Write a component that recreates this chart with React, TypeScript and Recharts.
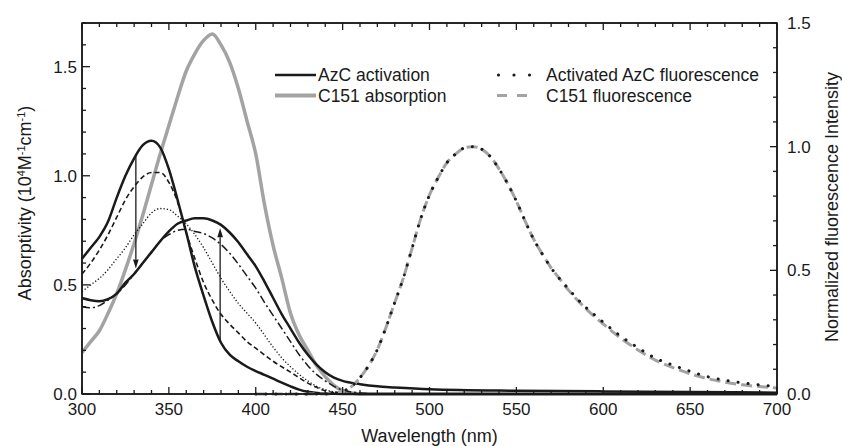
import { LineChart, Line, XAxis, YAxis, ReferenceLine } from 'recharts'

// absorption (left axis, 10^4 M^-1 cm^-1)
const azcStartX = [300, 305, 310, 315, 320, 325, 330, 335, 340, 345, 350, 355, 360, 365, 370, 375, 380, 385, 390, 395, 400, 405, 410, 415, 420, 425, 430, 440, 450, 500, 600, 700]
const azcStartY = [0.62, 0.67, 0.72, 0.79, 0.9, 1.0, 1.08, 1.14, 1.16, 1.13, 1.03, 0.89, 0.74, 0.58, 0.45, 0.33, 0.235, 0.18, 0.15, 0.125, 0.105, 0.088, 0.07, 0.052, 0.035, 0.02, 0.01, 0.002, 0, 0, 0, 0]

const azcMidAX = [300, 305, 310, 315, 320, 325, 330, 335, 340, 345, 350, 355, 360, 365, 370, 375, 380, 385, 390, 395, 400, 410, 420, 430, 440, 450]
const azcMidAY = [0.55, 0.6, 0.66, 0.73, 0.81, 0.89, 0.95, 0.995, 1.015, 1.015, 0.97, 0.88, 0.74, 0.62, 0.51, 0.43, 0.365, 0.32, 0.28, 0.24, 0.21, 0.15, 0.1, 0.05, 0.015, 0]

const azcMidBX = [300, 305, 310, 315, 320, 325, 330, 335, 340, 345, 350, 355, 360, 365, 370, 375, 380, 385, 390, 395, 400, 405, 410, 415, 420, 425, 430, 435, 440, 450, 460]
const azcMidBY = [0.47, 0.5, 0.53, 0.57, 0.62, 0.67, 0.73, 0.78, 0.83, 0.85, 0.845, 0.815, 0.78, 0.73, 0.67, 0.6, 0.53, 0.47, 0.415, 0.37, 0.325, 0.27, 0.215, 0.165, 0.125, 0.09, 0.06, 0.035, 0.02, 0.005, 0]

const azcMidCX = [300, 305, 310, 315, 320, 325, 330, 335, 340, 345, 350, 355, 360, 365, 370, 375, 380, 385, 390, 395, 400, 405, 410, 415, 420, 425, 430, 435, 440, 445, 450, 460, 470]
const azcMidCY = [0.4, 0.395, 0.405, 0.43, 0.46, 0.5, 0.55, 0.6, 0.65, 0.7, 0.73, 0.75, 0.755, 0.745, 0.735, 0.715, 0.685, 0.645, 0.595, 0.54, 0.485, 0.42, 0.36, 0.3, 0.24, 0.18, 0.13, 0.09, 0.06, 0.035, 0.018, 0.005, 0]

const azcEndX = [300, 305, 310, 315, 320, 325, 330, 335, 340, 345, 350, 355, 360, 365, 370, 375, 380, 385, 390, 395, 400, 405, 410, 415, 420, 425, 430, 435, 440, 445, 450, 460, 470, 480, 500, 550, 600, 650, 700]
const azcEndY = [0.44, 0.43, 0.425, 0.435, 0.46, 0.51, 0.55, 0.6, 0.65, 0.7, 0.745, 0.78, 0.795, 0.805, 0.805, 0.795, 0.775, 0.74, 0.695, 0.64, 0.585, 0.515, 0.44, 0.365, 0.3, 0.235, 0.18, 0.135, 0.1, 0.075, 0.06, 0.045, 0.035, 0.03, 0.022, 0.015, 0.012, 0.009, 0.006]

const c151AbsX = [300, 305, 310, 315, 320, 325, 330, 335, 340, 345, 350, 355, 360, 365, 370, 375, 380, 385, 390, 395, 400, 405, 410, 415, 420, 425, 430, 435, 440, 445, 450, 455, 460, 700]
const c151AbsY = [0.19, 0.24, 0.29, 0.37, 0.46, 0.57, 0.69, 0.82, 0.96, 1.1, 1.23, 1.36, 1.48, 1.56, 1.62, 1.65, 1.6, 1.52, 1.4, 1.25, 1.1, 0.87, 0.68, 0.53, 0.37, 0.27, 0.2, 0.13, 0.08, 0.04, 0.015, 0.005, 0, 0]

// fluorescence (right axis, normalized)
const flAzcX = [400, 440, 445, 450, 455, 460, 465, 470, 475, 480, 485, 490, 495, 500, 505, 510, 515, 520, 525, 530, 535, 540, 545, 550, 555, 560, 565, 570, 575, 580, 585, 590, 595, 600, 610, 620, 630, 640, 650, 660, 670, 680, 690, 700]
const flAzcY = [0, 0, 0.003, 0.01, 0.03, 0.066, 0.115, 0.18, 0.27, 0.37, 0.47, 0.59, 0.71, 0.805, 0.875, 0.935, 0.97, 0.995, 1.0, 0.99, 0.96, 0.91, 0.85, 0.78, 0.7, 0.625, 0.565, 0.51, 0.465, 0.425, 0.385, 0.35, 0.32, 0.29, 0.234, 0.187, 0.145, 0.117, 0.092, 0.07, 0.056, 0.045, 0.037, 0.03]

const flC151X = [400, 440, 445, 450, 455, 460, 465, 470, 475, 480, 485, 490, 495, 500, 505, 510, 515, 520, 525, 530, 535, 540, 545, 550, 555, 560, 565, 570, 575, 580, 590, 600, 610, 620, 630, 640, 650, 660, 670, 680, 690, 700]
const flC151Y = [0, 0, 0.003, 0.01, 0.03, 0.066, 0.115, 0.18, 0.27, 0.37, 0.47, 0.59, 0.71, 0.805, 0.875, 0.935, 0.97, 0.995, 1.0, 0.99, 0.96, 0.91, 0.85, 0.78, 0.7, 0.625, 0.565, 0.51, 0.465, 0.42, 0.345, 0.283, 0.226, 0.178, 0.137, 0.107, 0.082, 0.062, 0.048, 0.037, 0.03, 0.024]

const xTicks = [300, 310, 320, 330, 340, 350, 360, 370, 380, 390, 400, 410, 420, 430, 440, 450, 460, 470, 480, 490, 500, 510, 520, 530, 540, 550, 560, 570, 580, 590, 600, 610, 620, 630, 640, 650, 660, 670, 680, 690, 700]
const leftTicks = [0, 0.1, 0.2, 0.3, 0.4, 0.5, 0.6, 0.7, 0.8, 0.9, 1.0, 1.1, 1.2, 1.3, 1.4, 1.5, 1.6, 1.7]
const rightTicks = [0, 0.1, 0.2, 0.3, 0.4, 0.5, 0.6, 0.7, 0.8, 0.9, 1.0, 1.1, 1.2, 1.3, 1.4, 1.5]

// arrows showing the direction of change during activation
const arrowDown = { x: 331, from: 1.095, to: 0.575 }
const arrowUp = { x: 379.5, from: 0.245, to: 0.76 }

const toPts = (xs: number[], ys: number[]) => xs.map((x, i) => ({ x, y: ys[i] }))

const FONT = '"Liberation Sans", Arial, sans-serif'
const INK = '#1a1a1a'
const GRAY = '#a3a3a3'

// chart layout: margins + axis sizes define the plot box
const W = 842, H = 446
const M_TOP = 3, TOP_AX = 20, BOT_AX = 52, LEFT_AX = 82, RIGHT_AX = 65
const PL = LEFT_AX, PR = W - RIGHT_AX, PT = M_TOP + TOP_AX, PB = H - BOT_AX

const isMajorX = (v: number) => v % 50 === 0
const isMajorY = (v: number) => Math.abs(v * 2 - Math.round(v * 2)) < 1e-6

// frame ticks follow the same linear mapping as the chart axes
const sx = (v: number) => PL + ((v - 300) / 400) * (PR - PL)
const syL = (v: number) => PB - (v / 1.7) * (PB - PT)
const syR = (v: number) => PB - (v / 1.5) * (PB - PT)

function BottomLabel(p: any) {
  const v = p.payload.value
  if (!isMajorX(v)) return <g />
  return <text x={p.x} y={p.y + 21} textAnchor="middle" fontSize={17} fontFamily={FONT} fill={INK}>{v}</text>
}

function LeftLabel(p: any) {
  const v = p.payload.value
  if (!isMajorY(v)) return <g />
  return <text x={p.x - 5} y={p.y} dy="0.36em" textAnchor="end" fontSize={17} fontFamily={FONT} fill={INK}>{v.toFixed(1)}</text>
}

function RightLabel(p: any) {
  const v = p.payload.value
  if (!isMajorY(v)) return <g />
  return <text x={p.x + 10} y={p.y} dy="0.36em" textAnchor="start" fontSize={17} fontFamily={FONT} fill={INK}>{v.toFixed(1)}</text>
}

function Arrow(p: any) {
  const dir = p.y2 > p.y1 ? 1 : -1
  const tipY = p.y2
  const baseY = tipY - dir * 9
  return (
    <g>
      <line x1={p.x1} y1={p.y1} x2={p.x2} y2={baseY} stroke={INK} strokeWidth={1.3} />
      <polygon points={`${p.x2},${tipY} ${p.x2 - 2.8},${baseY} ${p.x2 + 2.8},${baseY}`} fill={INK} />
    </g>
  )
}

const frame = { stroke: INK, strokeWidth: 1.5 }

export default function App() {
  return (
    <div style={{ position: 'absolute', left: 0, top: 0, width: W, height: H, background: '#fff', fontFamily: FONT }}>
      <div style={{ position: 'absolute', left: 0, top: 0 }}>
        <LineChart width={W} height={H} margin={{ top: M_TOP, right: 0, bottom: 0, left: 0 }}>
          <XAxis xAxisId="bottom" dataKey="x" type="number" domain={[300, 700]} ticks={xTicks} interval={0} height={BOT_AX}
            axisLine={frame} tickLine={false} tickSize={0} tickMargin={0} tick={BottomLabel} />
          <XAxis xAxisId="top" orientation="top" dataKey="x" type="number" domain={[300, 700]} ticks={xTicks} interval={0} height={TOP_AX}
            axisLine={frame} tickLine={false} tickSize={0} tickMargin={0} tick={false} />
          <YAxis yAxisId="left" type="number" domain={[0, 1.7]} ticks={leftTicks} interval={0} width={LEFT_AX}
            axisLine={frame} tickLine={false} tickSize={0} tickMargin={0} tick={LeftLabel} />
          <YAxis yAxisId="right" orientation="right" type="number" domain={[0, 1.5]} ticks={rightTicks} interval={0} width={RIGHT_AX}
            axisLine={frame} tickLine={false} tickSize={0} tickMargin={0} tick={RightLabel} />

          <Line type="monotone" xAxisId="bottom" yAxisId="left" data={toPts(c151AbsX, c151AbsY)} dataKey="y" stroke={GRAY} strokeWidth={3.5} dot={false} isAnimationActive={false} />
          <Line type="monotone" xAxisId="bottom" yAxisId="left" data={toPts(azcMidAX, azcMidAY)} dataKey="y" stroke={INK} strokeWidth={1.6} strokeDasharray="5 3" dot={false} isAnimationActive={false} />
          <Line type="monotone" xAxisId="bottom" yAxisId="left" data={toPts(azcMidBX, azcMidBY)} dataKey="y" stroke={INK} strokeWidth={1.3} strokeDasharray="1.3 2" dot={false} isAnimationActive={false} />
          <Line type="monotone" xAxisId="bottom" yAxisId="left" data={toPts(azcMidCX, azcMidCY)} dataKey="y" stroke={INK} strokeWidth={1.5} strokeDasharray="8 3 2 3" dot={false} isAnimationActive={false} />
          <Line type="monotone" xAxisId="bottom" yAxisId="left" data={toPts(azcStartX, azcStartY)} dataKey="y" stroke={INK} strokeWidth={2.5} dot={false} isAnimationActive={false} />
          <Line type="monotone" xAxisId="bottom" yAxisId="left" data={toPts(azcEndX, azcEndY)} dataKey="y" stroke={INK} strokeWidth={2.5} dot={false} isAnimationActive={false} />

          <Line type="monotone" xAxisId="top" yAxisId="right" data={toPts(flC151X, flC151Y)} dataKey="y" stroke={GRAY} strokeWidth={3} strokeDasharray="11 5" dot={false} isAnimationActive={false} />
          <Line type="monotone" xAxisId="top" yAxisId="right" data={toPts(flAzcX, flAzcY)} dataKey="y" stroke={INK} strokeWidth={3} strokeDasharray="0.1 10" strokeLinecap="round" dot={false} isAnimationActive={false} />

          <ReferenceLine xAxisId="bottom" yAxisId="left" segment={[{ x: arrowDown.x, y: arrowDown.from }, { x: arrowDown.x, y: arrowDown.to }]} shape={Arrow} />
          <ReferenceLine xAxisId="bottom" yAxisId="left" segment={[{ x: arrowUp.x, y: arrowUp.from }, { x: arrowUp.x, y: arrowUp.to }]} shape={Arrow} />
        </LineChart>
      </div>

      <svg width={W} height={H} style={{ position: 'absolute', left: 0, top: 0, pointerEvents: 'none' }} fontFamily={FONT} fill={INK}>
        {/* closed frame with inward ticks on all four sides */}
        <rect x={PL} y={PT} width={PR - PL} height={PB - PT} fill="none" stroke={INK} strokeWidth={1.5} />
        {xTicks.map((v) => (
          <g key={`x${v}`}>
            <line x1={sx(v)} x2={sx(v)} y1={PB} y2={PB - (isMajorX(v) ? 7 : 4)} stroke={INK} strokeWidth={1.3} />
            <line x1={sx(v)} x2={sx(v)} y1={PT} y2={PT + (isMajorX(v) ? 7 : 4)} stroke={INK} strokeWidth={1.3} />
          </g>
        ))}
        {leftTicks.map((v) => (
          <line key={`l${v}`} x1={PL} x2={PL + (isMajorY(v) ? 8 : 4)} y1={syL(v)} y2={syL(v)} stroke={INK} strokeWidth={1.3} />
        ))}
        {rightTicks.map((v) => (
          <line key={`r${v}`} x1={PR} x2={PR - (isMajorY(v) ? 7 : 4)} y1={syR(v)} y2={syR(v)} stroke={INK} strokeWidth={1.3} />
        ))}

        <text x={(PL + PR) / 2} y={442} textAnchor="middle" fontSize={18}>Wavelength (nm)</text>
        <text transform="translate(31,203) rotate(-90)" textAnchor="middle" fontSize={18}>
          Absorptivity (10<tspan baselineShift="super" fontSize={11}>4</tspan>M<tspan baselineShift="super" fontSize={11}>-1</tspan>cm<tspan baselineShift="super" fontSize={11}>-1</tspan>)
        </text>
        <text transform="translate(838,207) rotate(-90)" textAnchor="middle" fontSize={18}>Normalized fluorescence Intensity</text>

        <line x1={275} x2={316} y1={75} y2={75} stroke={INK} strokeWidth={2.5} />
        <text x={318} y={81} fontSize={17.5}>AzC activation</text>
        <line x1={275} x2={316} y1={95.5} y2={95.5} stroke={GRAY} strokeWidth={4} />
        <text x={318} y={101.5} fontSize={17.5}>C151 absorption</text>

        <circle cx={498.5} cy={75} r={1.6} fill={INK} />
        <circle cx={514} cy={75} r={1.6} fill={INK} />
        <circle cx={529.5} cy={75} r={1.6} fill={INK} />
        <text x={546} y={81} fontSize={17.5}>Activated AzC fluorescence</text>
        <line x1={497} x2={507} y1={95.5} y2={95.5} stroke={GRAY} strokeWidth={3} />
        <line x1={517} x2={527} y1={95.5} y2={95.5} stroke={GRAY} strokeWidth={3} />
        <text x={546} y={101.5} fontSize={17.5}>C151 fluorescence</text>
      </svg>
    </div>
  )
}
